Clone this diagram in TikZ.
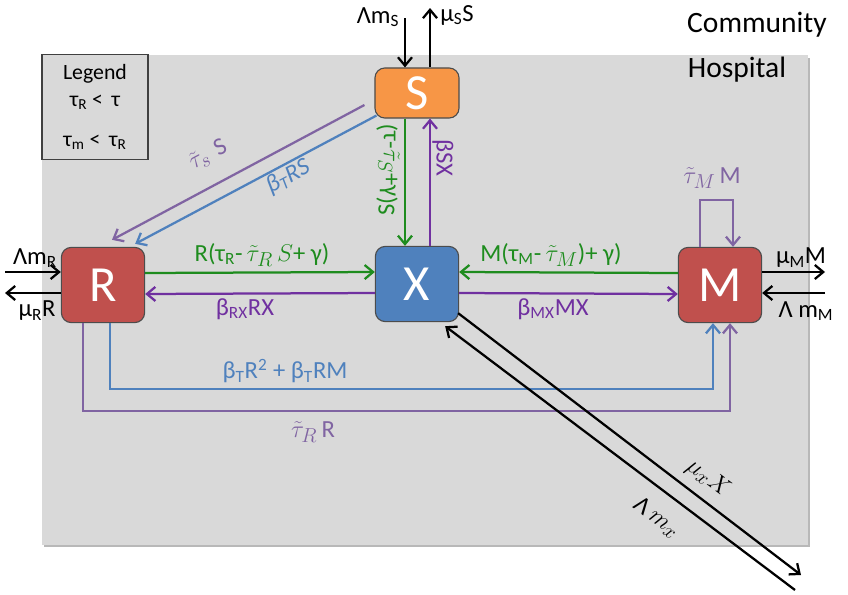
\documentclass[tikz,border=0pt]{standalone}
\usepackage{fontspec}
\setmainfont{Carlito}
\usepackage{graphicx}
\usepackage{xcolor}
\usepackage{tikz}
\usetikzlibrary{arrows.meta,calc,shapes}
\definecolor{hospital}{HTML}{D9D9D9}
\definecolor{orangeS}{HTML}{F79646}
\definecolor{blueX}{HTML}{4F81BD}
\definecolor{redR}{HTML}{C0504D}
\definecolor{gflow}{HTML}{1E8C1E}
\definecolor{pflow}{HTML}{7030A0}
\definecolor{lflow}{HTML}{8064A2}
\definecolor{bflow}{HTML}{4F81BD}
\newcommand{\ratemath}[1]{{\fontsize{19}{22}\selectfont$#1$}}
\tikzstyle{comp}=[rectangle,rounded corners=7pt,draw=black!70,line width=0.8pt,minimum width=2.08cm,minimum height=1.88cm,text=white,font=\fontsize{36}{40}\selectfont]
\tikzstyle{legend}=[rectangle,draw=black!75,line width=0.8pt,fill=hospital,minimum width=2.65cm,minimum height=2.62cm,align=center,font=\fontsize{15.5}{19}\selectfont]
\tikzstyle{flow}=[-{Straight Barb[length=6pt,width=10pt]},line width=1.6pt]
\tikzstyle{lbl}=[font=\fontsize{17.5}{20}\selectfont,inner sep=1pt]
\tikzstyle{title}=[font=\fontsize{21}{24}\selectfont,inner sep=1pt]

\begin{document}
\begin{tikzpicture}[x=0.025cm,y=-0.025cm]
        \useasboundingbox (0,0) rectangle (848,594);
        \fill [black!28] (44,58) rectangle (810,547);
        \fill [hospital] (42,55) rectangle (808,545);
        \node at (95,107) [legend] (L) {Legend\\τ\textsubscript{R} < \,τ\\[0.35cm]τ\textsubscript{m} < \,τ\textsubscript{R}};

        \node at (417,93) [comp,fill=orangeS,minimum width=2.1cm,minimum height=1.25cm] (S) {S};
        \node at (417,284) [comp,fill=blueX] (X) {X};
        \node at (103,285) [comp,fill=redR] (R) {R};
        \node at (720,285) [comp,fill=redR] (M) {M};

        \coordinate (sin) at (405,18);
        \coordinate (sout) at (430,8);
        \coordinate (rin) at (5,272);
        \coordinate (rout) at (5,293);
        \coordinate (mout) at (825,272);
        \coordinate (min) at (825,293);
        \coordinate (xout) at (801,575);
        \coordinate (xin) at (795,590);

        \draw [flow] (sin) -- (sin |- S.north);
        \draw [flow] (sout |- S.north) -- (sout);
        \draw [flow,gflow] (S.south -| sin) -- (X.north -| sin);
        \draw [flow,pflow] (X.north -| sout) -- (S.south -| sout);
        \draw [flow,lflow] ($(S.west)+(-10,12)$) -- ($(R.north)+(9,-7)$);
        \draw [flow,bflow] ($(S.south west)+(2,-3)$) -- ($(R.north east)+(-10,-3)$);
        \draw [flow,gflow] ($(R.east)+(0,-12)$) -- ($(X.west)+(0,-12)$);
        \draw [flow,pflow] ($(X.west)+(0,9)$) -- ($(R.east)+(0,9)$);
        \draw [flow,gflow] ($(M.west)+(0,-12)$) -- ($(X.east)+(0,-12)$);
        \draw [flow,pflow] ($(X.east)+(0,9)$) -- ($(M.west)+(0,9)$);
        \draw [flow,lflow] ($(M.north)+(-20,0)$) -- ++(0,-47) -| ($(M.north)+(13,0)$);
        \draw [flow] (rin) -- (rin -| R.west);
        \draw [flow] (rout -| R.west) -- (rout);
        \draw [flow] (mout -| M.east) -- (mout);
        \draw [flow] (min) -- (min -| M.east);
        \draw [flow,bflow] ($(R.south)+(7,0)$) |- ($(M.south)+(-7,66)$) -- ($(M.south)+(-7,0)$);
        \draw [flow,lflow] ($(R.south)+(-20,0)$) |- ($(M.south)+(10,88)$) -- ($(M.south)+(10,0)$);
        \draw [flow] ($(X.south east)+(-1,-9)$) -- (xout);
        \draw [flow] (xin) -- ($(X.south east)+(-14,4)$);

        \node at (378,17) [lbl] (lS) {Λm\textsubscript{S}};
        \node at (457,15) [lbl] (uS) {μ\textsubscript{S}S};
        \node at (388,170) [lbl,text=gflow,rotate=90] (sx) {S(\rotatebox[origin=c]{180}{τ-\ratemath{\tilde{\tau}_{S}}+γ})};
        \node at (443,158) [lbl,text=pflow,rotate=-90] (xs) {βSX};
        \node at (208,155) [lbl,text=lflow,rotate=28] (ts) {\ratemath{\tilde{\tau}_{s}}\,\,S};
        \node at (288,177) [lbl,text=bflow,rotate=28] (brs) {\itshape β\textsubscript{T}RS};
        \node at (262,255) [lbl,text=gflow] (rx) {R(τ\textsubscript{R}-\,\ratemath{\tilde{\tau}_R\,S}+ γ)};
        \node at (245,309) [lbl,text=pflow] (xr) {β\textsubscript{RX}RX};
        \node at (551,255) [lbl,text=gflow] (mx) {M(τ\textsubscript{M}-\,\ratemath{\tilde{\tau}_M})+ γ)};
        \node at (553,309) [lbl,text=pflow] (xm) {β\textsubscript{MX}MX};
        \node at (712,178) [lbl,text=lflow] (tm) {\ratemath{\tilde{\tau}_M}\,M};
        \node at (35,258) [lbl] (lR) {Λm\textsubscript{R}};
        \node at (37,311) [lbl] (uR) {μ\textsubscript{R}R};
        \node at (801,258) [lbl] (uM) {μ\textsubscript{M}M};
        \node at (806,311) [lbl] (lM) {Λ m\textsubscript{M}};
        \node at (285,371) [lbl,text=bflow] (brm) {β\textsubscript{T}R\textsuperscript{2} + β\textsubscript{T}RM};
        \node at (313,432) [lbl,text=lflow] (tr) {\ratemath{\tilde{\tau}_R}\,R};
        \node at (708,478) [lbl,rotate=-37] (ux) {\ratemath{\mu_x X}};
        \node at (657,518) [lbl,rotate=-37] (lx) {Λ\,\ratemath{m_x}};
        \node at (757,25) [title] (comm) {Community};
        \node at (737,70) [title] (hosp) {Hospital};
      \end{tikzpicture}
\end{document}
